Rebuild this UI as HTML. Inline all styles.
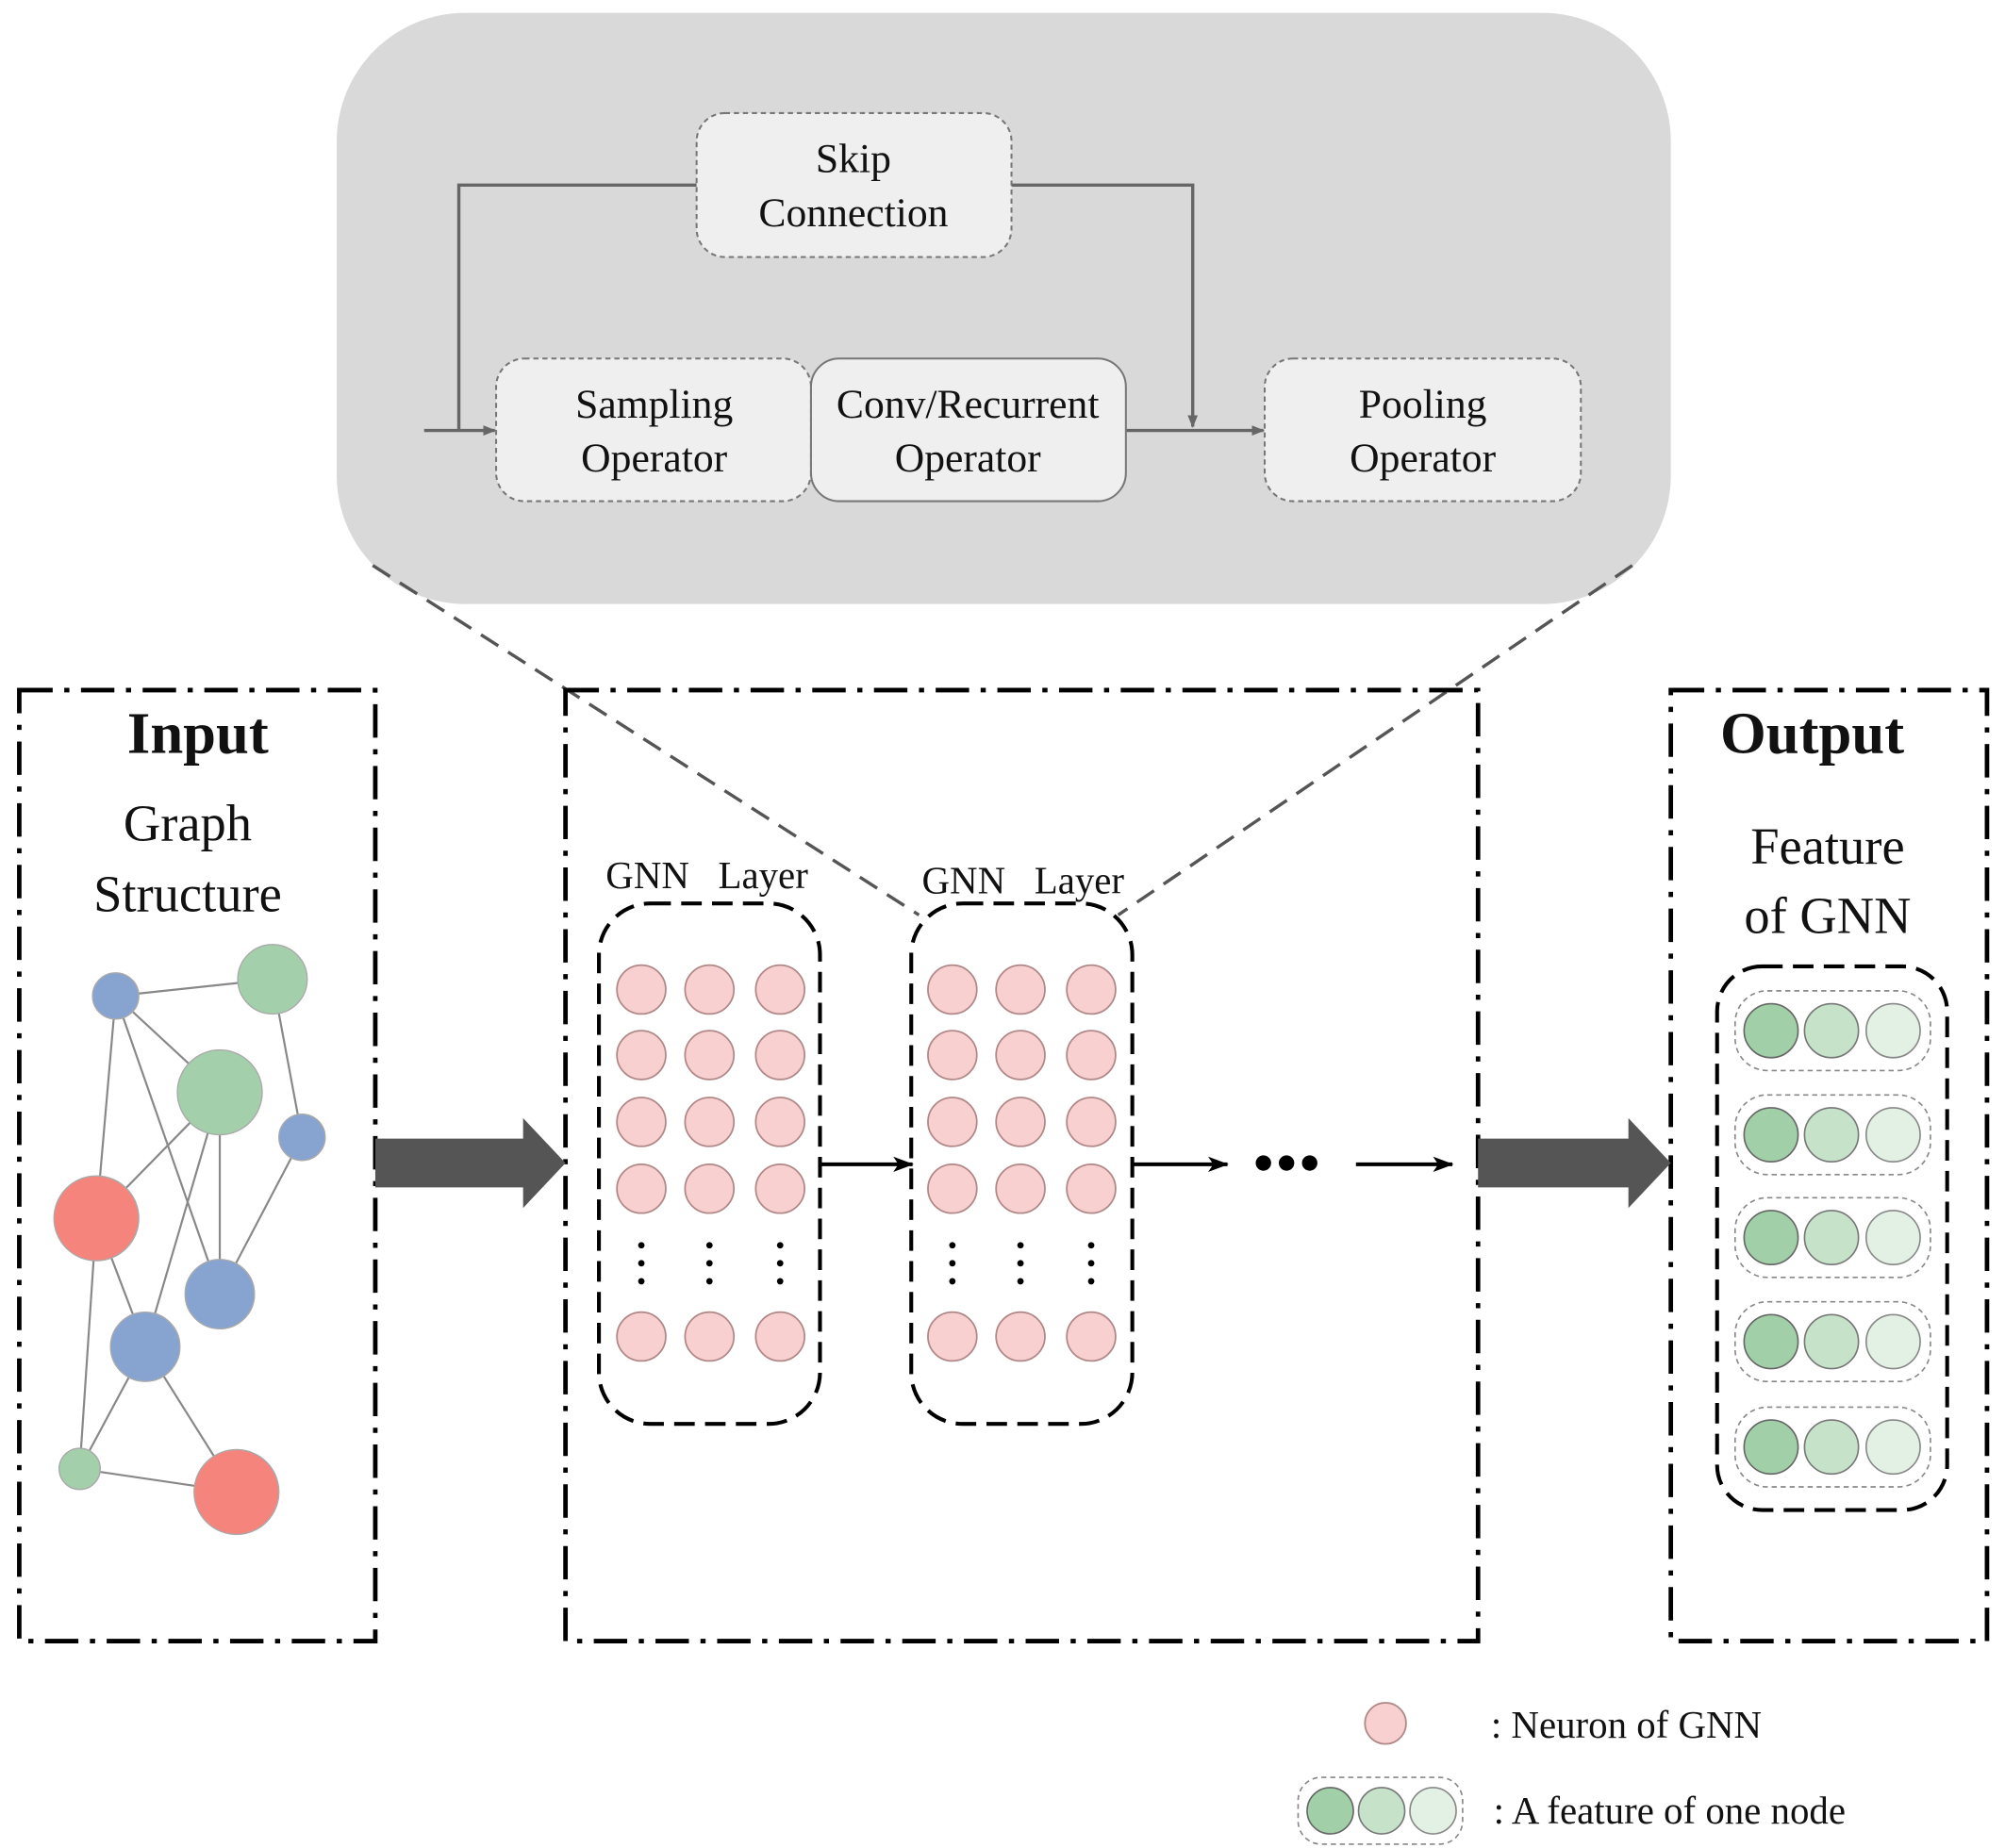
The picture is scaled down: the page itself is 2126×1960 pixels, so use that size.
<!DOCTYPE html>
<html><head><meta charset="utf-8"><style>
html,body{margin:0;padding:0;background:#fff;}
svg{display:block;}
text{font-family:"Liberation Serif",serif;fill:#111;}
</style></head><body>
<svg width="2126" height="1960" viewBox="0 0 1560 1438" preserveAspectRatio="none" xmlns="http://www.w3.org/2000/svg">
<defs>
<marker id="ag" markerWidth="10" markerHeight="10" refX="9" refY="5" orient="auto" markerUnits="userSpaceOnUse"><path d="M0,1 L10,5 L0,9 z" fill="#666"/></marker>
<marker id="ak" markerWidth="16" markerHeight="14" refX="15" refY="7" orient="auto" markerUnits="userSpaceOnUse"><path d="M0,1 L16,7 L0,13 L4,7 z" fill="#000"/></marker>
</defs>
<rect x="262" y="10" width="1038" height="460" rx="100" fill="#d9d9d9"/>
<g stroke="#666" stroke-width="2.5" fill="none">
<polyline points="542,144 357,144 357,335"/>
<polyline points="787,144 928,144 928,332" marker-end="url(#ag)"/>
<line x1="330" y1="335" x2="385" y2="335" marker-end="url(#ag)"/>
<line x1="876" y1="335" x2="983" y2="335" marker-end="url(#ag)"/>
</g>
<g fill="#efefef" stroke="#777" stroke-width="1.5">
<rect x="542" y="88" width="245" height="112" rx="22" stroke-dasharray="4,3"/>
<rect x="386" y="279" width="245" height="111" rx="22" stroke-dasharray="4,3"/>
<rect x="631" y="279" width="245" height="111" rx="22"/>
<rect x="984" y="279" width="246" height="111" rx="22" stroke-dasharray="4,3"/>
</g>
<g font-size="32" text-anchor="middle">
<text x="664" y="134">Skip</text><text x="664" y="176">Connection</text>
<text x="509" y="325">Sampling</text><text x="509" y="367">Operator</text>
<text x="753" y="325">Conv/Recurrent</text><text x="753" y="367">Operator</text>
<text x="1107" y="325">Pooling</text><text x="1107" y="367">Operator</text>
</g>
<g stroke="#555" stroke-width="2.5" stroke-dasharray="16,9">
<line x1="290" y1="440" x2="715" y2="712"/>
<line x1="1270" y1="440" x2="870" y2="712"/>
</g>
<g fill="none" stroke="#000" stroke-width="3.5" stroke-dasharray="26,9,4,9">
<rect x="15" y="537" width="277" height="740"/>
<rect x="440" y="537" width="710" height="740"/>
<rect x="1300" y="537" width="246" height="740"/>
</g>
<text x="154" y="586" font-size="46" font-weight="bold" text-anchor="middle">Input</text>
<text x="146" y="654" font-size="40" text-anchor="middle">Graph</text>
<text x="146" y="709" font-size="40" text-anchor="middle">Structure</text>
<text x="1410" y="586" font-size="46" font-weight="bold" text-anchor="middle">Output</text>
<text x="1422" y="672" font-size="40" text-anchor="middle">Feature</text>
<text x="1422" y="726" font-size="40" text-anchor="middle">of GNN</text>
<g stroke="#888" stroke-width="1.6">
<line x1="90" y1="775" x2="212" y2="762"/><line x1="90" y1="775" x2="171" y2="850"/>
<line x1="90" y1="775" x2="75" y2="948"/><line x1="90" y1="775" x2="171" y2="1007"/>
<line x1="212" y1="762" x2="235" y2="885"/><line x1="235" y1="885" x2="171" y2="1007"/>
<line x1="171" y1="850" x2="75" y2="948"/><line x1="171" y1="850" x2="171" y2="1007"/>
<line x1="171" y1="850" x2="113" y2="1048"/><line x1="75" y1="948" x2="113" y2="1048"/>
<line x1="75" y1="948" x2="62" y2="1143"/><line x1="113" y1="1048" x2="62" y2="1143"/>
<line x1="113" y1="1048" x2="184" y2="1161"/><line x1="62" y1="1143" x2="184" y2="1161"/>
</g>
<g stroke="#aaa" stroke-width="1">
<circle cx="90" cy="775" r="18" fill="#87a3cf"/><circle cx="212" cy="762" r="27" fill="#a3cfab"/>
<circle cx="171" cy="850" r="33" fill="#a3cfab"/><circle cx="235" cy="885" r="18" fill="#87a3cf"/>
<circle cx="75" cy="948" r="33" fill="#f4847c"/><circle cx="171" cy="1007" r="27" fill="#87a3cf"/>
<circle cx="113" cy="1048" r="27" fill="#87a3cf"/><circle cx="62" cy="1143" r="16" fill="#a3cfab"/>
<circle cx="184" cy="1161" r="33" fill="#f4847c"/>
</g>
<path d="M292,886 L407,886 L407,870 L440,905 L407,940 L407,924 L292,924 z" fill="#555"/>
<path d="M1150,886 L1267,886 L1267,870 L1300,905 L1267,940 L1267,924 L1150,924 z" fill="#555"/>
<text x="550" y="691" font-size="30" text-anchor="middle" xml:space="preserve">GNN   Layer</text>
<text x="796" y="695" font-size="30" text-anchor="middle" xml:space="preserve">GNN   Layer</text>
<g fill="none" stroke="#000" stroke-width="3" stroke-dasharray="16,8">
<rect x="466" y="703" width="172" height="405" rx="40"/>
<rect x="709" y="703" width="172" height="405" rx="40"/>
</g>
<g fill="#f9d0d0" stroke="#b08888" stroke-width="1.3">
<g id="col">
<circle cx="499" cy="770" r="19"/><circle cx="499" cy="821" r="19"/><circle cx="499" cy="873" r="19"/><circle cx="499" cy="925" r="19"/><circle cx="499" cy="1040" r="19"/>
</g>
<use href="#col" x="53"/><use href="#col" x="108"/>
<use href="#col" x="242"/><use href="#col" x="295"/><use href="#col" x="350"/>
</g>
<g fill="#000">
<g id="dc"><circle cx="499" cy="969" r="2.5"/><circle cx="499" cy="983" r="2.5"/><circle cx="499" cy="997" r="2.5"/></g>
<use href="#dc" x="53"/><use href="#dc" x="108"/><use href="#dc" x="242"/><use href="#dc" x="295"/><use href="#dc" x="350"/>
<circle cx="983" cy="905" r="6"/><circle cx="1001" cy="905" r="6"/><circle cx="1019" cy="905" r="6"/>
</g>
<g stroke="#000" stroke-width="3">
<line x1="638" y1="906" x2="710" y2="906" marker-end="url(#ak)"/>
<line x1="881" y1="906" x2="955" y2="906" marker-end="url(#ak)"/>
<line x1="1055" y1="906" x2="1130" y2="906" marker-end="url(#ak)"/>
</g>
<rect x="1336" y="752" width="179" height="423" rx="35" fill="none" stroke="#000" stroke-width="3" stroke-dasharray="16,8"/>
<g id="frow">
<rect x="1350" y="771" width="152" height="62" rx="25" fill="none" stroke="#888" stroke-width="1.2" stroke-dasharray="4,3"/>
<circle cx="1378" cy="802" r="21" fill="#a0cfa8" stroke="#666" stroke-width="1.2"/>
<circle cx="1425" cy="802" r="21" fill="#c6e3ca" stroke="#777" stroke-width="1.2"/>
<circle cx="1473" cy="802" r="21" fill="#e3f1e4" stroke="#888" stroke-width="1.2"/>
</g>
<use href="#frow" y="81"/><use href="#frow" y="161"/><use href="#frow" y="242"/><use href="#frow" y="324"/>
<circle cx="1078" cy="1341" r="16" fill="#f9d0d0" stroke="#b08888" stroke-width="1.3"/>
<text x="1160" y="1352" font-size="30">: Neuron of GNN</text>
<rect x="1010" y="1383" width="128" height="52" rx="18" fill="none" stroke="#888" stroke-width="1.2" stroke-dasharray="4,3"/>
<circle cx="1035" cy="1409" r="18" fill="#a0cfa8" stroke="#666" stroke-width="1.2"/>
<circle cx="1075" cy="1409" r="18" fill="#c6e3ca" stroke="#777" stroke-width="1.2"/>
<circle cx="1115" cy="1409" r="18" fill="#e3f1e4" stroke="#888" stroke-width="1.2"/>
<text x="1162" y="1419" font-size="30">: A feature of one node</text>
</svg>
</body></html>
